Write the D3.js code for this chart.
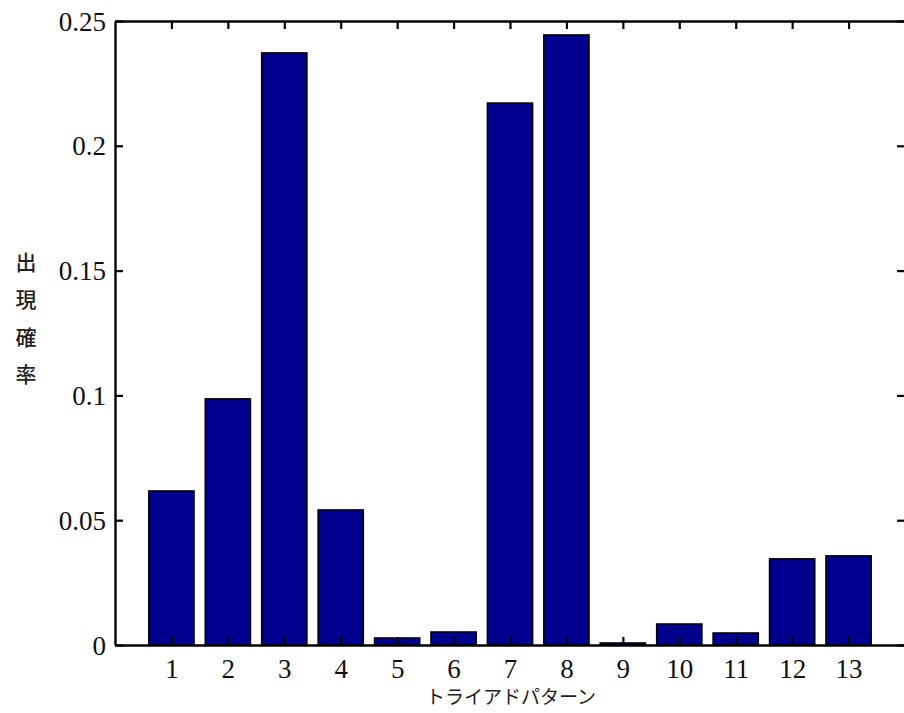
<!DOCTYPE html>
<html>
<head>
<meta charset="utf-8">
<script src="https://cdn.jsdelivr.net/npm/d3@7"></script>
<style>
html,body{margin:0;padding:0;background:#fff;overflow:hidden;}
</style>
</head>
<body>
<svg id="chart" width="904" height="713"></svg>
<script>
const categories = [1,2,3,4,5,6,7,8,9,10,11,12,13];
const probabilities = [0.0617,0.0986,0.2372,0.0541,0.0028,0.0052,0.2171,0.2444,0.0008,0.0084,0.0048,0.0345,0.0357];
const yTicks = [0,0.05,0.1,0.15,0.2,0.25];
const yTickLabels = ["0","0.05","0.1","0.15","0.2","0.25"];
const yLabel = ["出","現","確","率"];
const xLabel = "トライアドパターン";

const svg = d3.select("#chart");
const L = 115, R = 905, T = 21, B = 645;
const x = d3.scaleLinear().domain([0,14]).range([L,R]);
const y = d3.scaleLinear().domain([0,0.25]).range([B,T]);
const barW = 0.8;

svg.append("rect").attr("width",904).attr("height",713).attr("fill","#fff");

// bars
svg.append("g").selectAll("rect").data(categories).join("rect")
  .attr("x", (d)=>x(d-barW/2))
  .attr("width", (d)=>x(barW)-x(0))
  .attr("y", (d,i)=>y(probabilities[i]))
  .attr("height", (d,i)=>y(0)-y(probabilities[i]))
  .attr("fill","#00008f")
  .attr("stroke","#000")
  .attr("stroke-width",1.6);

const tickFont = "'Liberation Serif','Times New Roman',serif";

// bottom axis
const xb = svg.append("g").attr("transform",`translate(0,${B})`)
  .call(d3.axisBottom(x).tickValues(categories).tickSize(-8).tickPadding(15).tickSizeOuter(0));
// top axis
const xt = svg.append("g").attr("transform",`translate(0,${T})`)
  .call(d3.axisTop(x).tickValues(categories).tickSize(-8).tickFormat("").tickSizeOuter(0));
// left axis
const yl = svg.append("g").attr("transform",`translate(${L},0)`)
  .call(d3.axisLeft(y).tickValues(yTicks).tickSize(-8).tickPadding(9)
    .tickFormat((d,i)=>yTickLabels[i]).tickSizeOuter(0));
// right axis
const yr = svg.append("g").attr("transform",`translate(${R},0)`)
  .call(d3.axisRight(y).tickValues(yTicks).tickSize(-8).tickFormat("").tickSizeOuter(0));

[xb,xt,yl,yr].forEach(g=>{
  g.selectAll(".domain").attr("stroke","#000").attr("stroke-width",2.4);
  g.selectAll(".tick line").attr("stroke","#000").attr("stroke-width",2.2);
  g.selectAll("text").attr("fill","#111").style("font-family",tickFont).style("font-size","27px");
});
yl.selectAll("text").attr("dy","0.34em");
xb.selectAll("text").attr("dy","0.68em");

// y label (stacked vertical)
svg.append("g").selectAll("text").data(yLabel).join("text")
  .attr("x",26).attr("y",(d,i)=>262+i*37.5).attr("dy","0.36em")
  .attr("text-anchor","middle")
  .style("font-family","'Noto Sans CJK JP',sans-serif").style("font-size","21px")
  .style("font-weight","500")
  .attr("fill","#222")
  .text(d=>d);

// x label
svg.append("text").attr("x",(L+R)/2+1).attr("y",697).attr("dy","0.36em")
  .attr("text-anchor","middle")
  .style("font-family","'Noto Sans CJK JP',sans-serif").style("font-size","19px")
  .attr("fill","#222")
  .text(xLabel);
</script>
</body>
</html>
